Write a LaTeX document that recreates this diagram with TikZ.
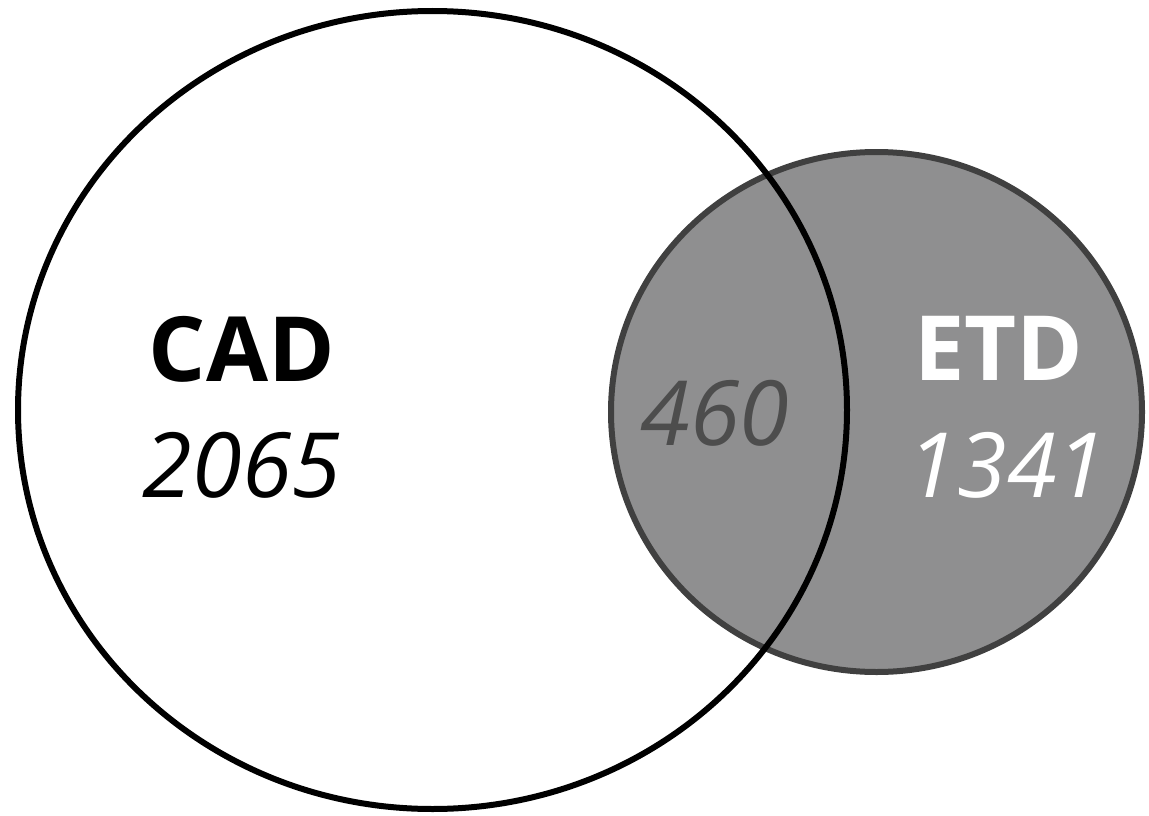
\documentclass[tikz,border=0pt]{standalone}
\usepackage{fontspec}
\setmainfont{Open Sans}
\definecolor{etdfill}{HTML}{8F8F90}
\definecolor{etdline}{HTML}{404040}
\definecolor{midtext}{HTML}{4D4D4D}
\begin{document}
\begin{tikzpicture}[x=1pt,y=-1pt,
  setname/.style={font=\fontsize{90}{90}\selectfont\bfseries,inner sep=0pt,anchor=base},
  setcount/.style={font=\fontsize{90}{90}\selectfont\itshape,inner sep=0pt,anchor=base}]
\useasboundingbox (0,0) rectangle (1149,816);
\fill[white] (0,0) rectangle (1149,816);
\draw[line width=6pt,draw=etdline,fill=etdfill] (876.5,412) ellipse [x radius=265.5, y radius=260];
\draw[line width=6pt,draw=black] (432.5,410) ellipse [x radius=414.5, y radius=399];
\node[setname] (cad) at (242,381) {CAD};
\node[setcount] (cadn) at (242,497) {2065};
\node[setcount,text=midtext] (mid) at (715,445) {460};
\node[setname,text=white] (etd) at (999,380) {ETD};
\node[setcount,text=white] (etdn) at (1007,497) {1341};
\end{tikzpicture}
\end{document}
